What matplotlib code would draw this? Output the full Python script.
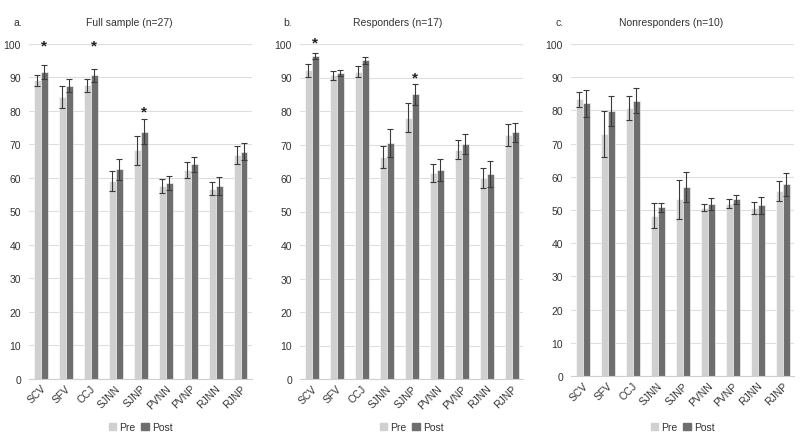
import matplotlib.pyplot as plt
from matplotlib.patches import Rectangle
import numpy as np

plt.rcParams['font.family'] = ['Liberation Sans', 'DejaVu Sans']

measures = ["SCV", "SFV", "CCJ", "SJNN", "SJNP", "PVNN", "PVNP", "RJNN", "RJNP"]

# a. Full sample
full_pre = [89.1, 84.2, 87.7, 59.0, 68.2, 57.6, 62.4, 56.8, 66.7]
full_pre_err = [1.6, 3.3, 1.9, 3.0, 4.3, 2.0, 2.4, 2.0, 2.7]
full_post = [91.6, 87.5, 90.6, 62.6, 73.8, 58.5, 64.0, 57.6, 67.8]
full_post_err = [2.0, 1.9, 1.9, 3.15, 3.75, 2.1, 2.35, 2.7, 2.55]
full_stars = {0: 99.7, 2: 99.7, 4: 79.7}

# b. Responders
resp_pre = [92.2, 90.6, 91.7, 66.2, 78.0, 61.6, 68.5, 60.1, 72.9]
resp_pre_err = [1.95, 1.25, 1.65, 3.25, 4.3, 2.65, 2.85, 3.0, 3.2]
resp_post = [96.5, 91.4, 95.1, 70.4, 85.0, 62.5, 70.1, 61.2, 73.6]
resp_post_err = [0.9, 0.9, 1.0, 4.2, 3.1, 3.3, 3.0, 4.0, 2.9]
resp_stars = {0: 100.4, 4: 90.0}

# c. Nonresponders
non_pre = [83.3, 72.9, 80.7, 48.3, 53.2, 50.7, 51.9, 50.7, 55.7]
non_pre_err = [2.2, 7.0, 3.55, 3.8, 5.9, 1.0, 1.3, 1.85, 2.9]
non_post = [82.1, 79.9, 82.9, 50.8, 57.0, 51.7, 53.2, 51.4, 57.7]
non_post_err = [4.1, 4.55, 3.7, 1.45, 4.55, 1.85, 1.4, 2.6, 3.45]
non_stars = {}

panels = [
    ("a.", "Full sample (n=27)", full_pre, full_pre_err, full_post, full_post_err, full_stars),
    ("b.", "Responders (n=17)", resp_pre, resp_pre_err, resp_post, resp_post_err, resp_stars),
    ("c.", "Nonresponders (n=10)", non_pre, non_pre_err, non_post, non_post_err, non_stars),
]

PRE_COL = "#d0d0d0"
POST_COL = "#6e6e6e"
ERR_COL = "#3a3a3a"
GRID_COL = "#dedede"

W, H = 800, 439
fig = plt.figure(figsize=(W / 100, H / 100), dpi=100)

# pixel layout: (left, bottom_of_zero_line, letter_x, title_center)
layout = [(29.25, 379.6, 13, 129), (300.25, 380.0, 283, 398), (571.25, 377.0, 556, 671)]
xmin, xmax = -0.45, 8.47
unit = 25.0
top_px = 45.0

x = np.arange(len(measures))
bw = 0.28

for (letter, title, pre, pre_e, post, post_e, stars), (lp, bp, lx, tx) in zip(panels, layout):
    ax = fig.add_axes([lp / W, 1 - bp / H, (xmax - xmin) * unit / W, (bp - top_px) / H])
    ax.bar(x - bw / 2, pre, bw, color=PRE_COL, edgecolor="white", linewidth=0.4, zorder=2)
    ax.bar(x + bw / 2, post, bw, color=POST_COL, edgecolor="white", linewidth=0.4, zorder=2)
    ax.errorbar(x - bw / 2, pre, yerr=pre_e, fmt="none", ecolor=ERR_COL,
                elinewidth=0.8, capsize=2, capthick=0.8, zorder=3)
    ax.errorbar(x + bw / 2, post, yerr=post_e, fmt="none", ecolor=ERR_COL,
                elinewidth=0.8, capsize=2, capthick=0.8, zorder=3)
    for i, yv in stars.items():
        ax.text(i + bw / 2, yv, "*", ha="center", va="center", fontsize=11,
                fontweight="bold", color="#222222", zorder=4)

    ax.set_xlim(xmin, xmax)
    ax.set_ylim(0, 100)
    ax.set_yticks(np.arange(0, 101, 10))
    ax.set_xticks(x)
    ax.set_xticklabels(measures, rotation=45, ha="right", va="top",
                       rotation_mode="anchor", fontsize=7.5, color="#333333")
    ax.tick_params(axis="y", labelsize=7.5, labelcolor="#333333", length=0, pad=6)
    ax.tick_params(axis="x", length=0, pad=3)
    ax.grid(True, axis="y", color=GRID_COL, linewidth=0.8, zorder=0)
    ax.set_axisbelow(True)
    for s in ["top", "right", "left"]:
        ax.spines[s].set_visible(False)
    ax.spines["bottom"].set_color("#cfcfcf")
    ax.spines["bottom"].set_linewidth(0.8)

    fig.text(lx / W, 1 - 23 / H, letter, ha="left", va="center", fontsize=7.5, color="#333333")
    fig.text(tx / W, 1 - 23 / H, title, ha="center", va="center", fontsize=7.5, color="#333333")

    handles = [Rectangle((0, 0), 1, 1, color=PRE_COL), Rectangle((0, 0), 1, 1, color=POST_COL)]
    fig.legend(handles, ["Pre", "Post"], loc="center", ncol=2,
               bbox_to_anchor=((lp + 4.45 * unit + 0.45 * unit * 0) / W + 0.0, 1 - 428 / H),
               frameon=False, fontsize=7.5, handlelength=0.7, handleheight=0.7,
               handletextpad=0.3, columnspacing=0.6, labelcolor="#333333")

fig.savefig("out.png", dpi=100)
